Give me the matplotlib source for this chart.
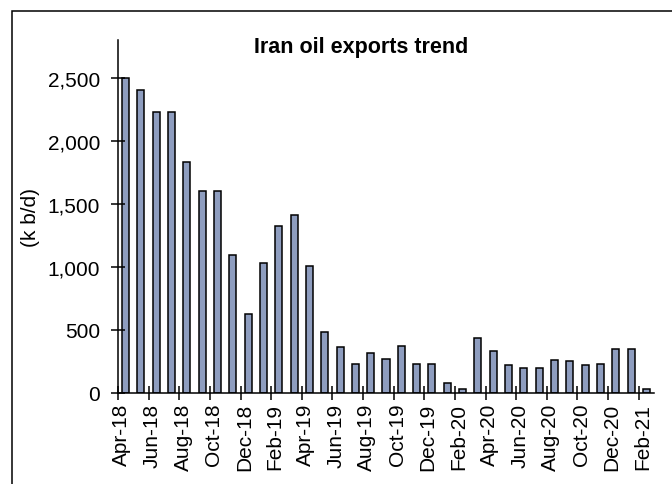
import matplotlib
matplotlib.use("Agg")
import matplotlib.pyplot as plt
from matplotlib.patches import Rectangle
from matplotlib.ticker import FuncFormatter

plt.rcParams['font.family'] = ['Liberation Sans', 'DejaVu Sans']

# monthly exports, Apr-18 .. Feb-21 (k b/d)
months = ['Apr-18', 'May-18', 'Jun-18', 'Jul-18', 'Aug-18', 'Sep-18', 'Oct-18', 'Nov-18',
          'Dec-18', 'Jan-19', 'Feb-19', 'Mar-19', 'Apr-19', 'May-19', 'Jun-19', 'Jul-19',
          'Aug-19', 'Sep-19', 'Oct-19', 'Nov-19', 'Dec-19', 'Jan-20', 'Feb-20', 'Mar-20',
          'Apr-20', 'May-20', 'Jun-20', 'Jul-20', 'Aug-20', 'Sep-20', 'Oct-20', 'Nov-20',
          'Dec-20', 'Jan-21', 'Feb-21']
exports = [2500, 2400, 2230, 2230, 1830, 1600, 1605, 1095, 630, 1030, 1325, 1410,
           1005, 484, 368, 228, 320, 267, 373, 230, 230, 82, 35, 440,
           336, 222, 198, 197, 260, 256, 222, 230, 352, 352, 35]

fig = plt.figure(figsize=(6.72, 4.85), dpi=100)
ax = fig.add_axes([118/672, 1 - 394/485, (654 - 118)/672, (394 - 41)/485])

x = list(range(len(months)))
ax.bar(x, exports, width=0.46, color='#8e9dbf', edgecolor='black', linewidth=1.1)

ax.set_xlim(-0.5, len(months) - 0.5)
ax.set_ylim(0, 2800)
ax.set_yticks([0, 500, 1000, 1500, 2000, 2500])
ax.yaxis.set_major_formatter(FuncFormatter(lambda v, p: f'{int(v):,}'))

# tick marks on month boundaries, labels every second month
ax.set_xticks([i - 0.5 for i in x[::2]], minor=True)
ax.set_xticks([i - 0.25 for i in x[::2]])
ax.set_xticklabels(months[::2], rotation=90)
ax.tick_params(axis='x', which='major', length=0, pad=7, labelsize=15)
ax.tick_params(axis='x', which='minor', direction='inout', length=10, width=1.1)
ax.tick_params(axis='y', direction='inout', length=10, width=1.1, pad=8, labelsize=15)

for s in ['top', 'right']:
    ax.spines[s].set_visible(False)
for s in ['left', 'bottom']:
    ax.spines[s].set_linewidth(1.1)

ax.set_ylabel('(k b/d)', fontsize=15, labelpad=5)
fig.text(361/672, 1 - 47/485, 'Iran oil exports trend', ha='center', va='center',
         fontsize=15.5, fontweight='bold')

# chart area border
fig.patches.append(Rectangle((12/672, -0.1), 1.2, 1.1 - 12/485, transform=fig.transFigure,
                             fill=False, edgecolor='black', linewidth=1.1))

fig.savefig('out.png', dpi=100)
